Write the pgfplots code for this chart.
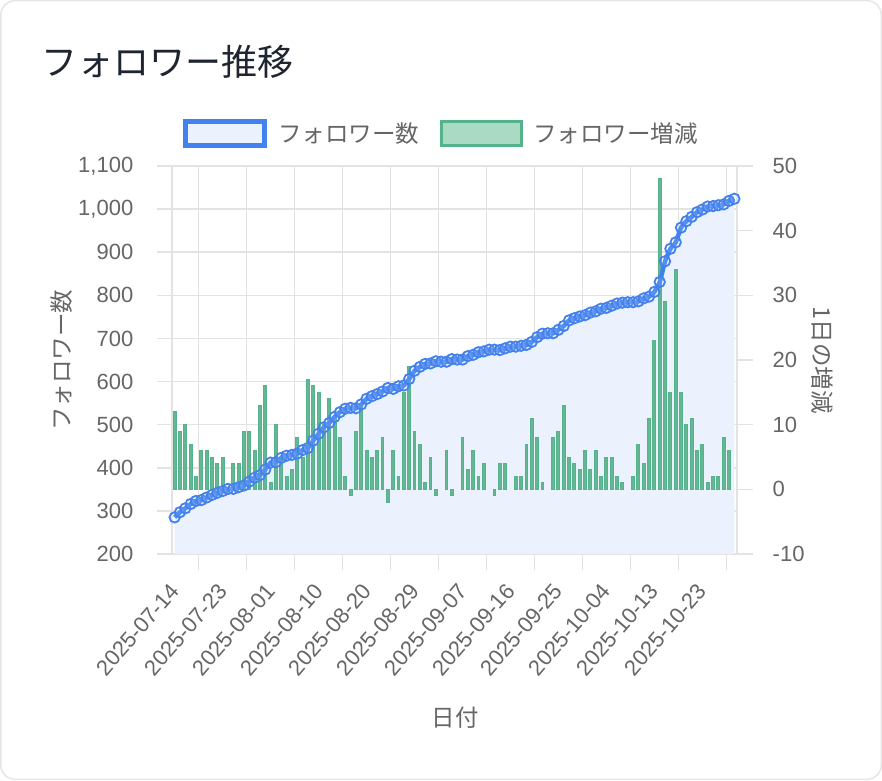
\documentclass[border=0pt]{standalone}
\usepackage{fontspec}
\setmainfont{Liberation Sans}
\newfontfamily\jp{Noto Sans CJK JP}
\usepackage{pgfplots}
\usepackage{pgfplotstable}
\pgfplotsset{compat=1.18}
\definecolor{gridc}{HTML}{E3E3E3}
\definecolor{tickc}{HTML}{666666}
\definecolor{lineblue}{HTML}{4281EE}
\definecolor{fillblue}{HTML}{EBF2FE}
\definecolor{bargreen}{HTML}{54B38A}
\definecolor{barfill}{HTML}{AAD9C4}
\definecolor{barinner}{HTML}{63B893}
\definecolor{titlec}{HTML}{1E2430}
\definecolor{cardborder}{HTML}{E6E6E6}

\pgfplotstableread{
i f b
0 285 12
1 297 9
2 306 10
3 316 7
4 323 2
5 325 6
6 331 6
7 337 5
8 342 4
9 346 5
10 351 nan
11 351 4
12 355 4
13 359 9
14 368 9
15 377 6
16 383 13
17 396 16
18 412 1
19 413 10
20 423 5
21 428 2
22 430 3
23 433 8
24 441 5
25 446 17
26 463 16
27 479 15
28 494 10
29 504 14
30 518 11
31 529 8
32 537 2
33 539 -1
34 538 9
35 547 13
36 560 6
37 566 5
38 571 6
39 577 8
40 585 -2
41 583 6
42 589 2
43 591 15
44 606 19
45 625 9
46 634 7
47 641 1
48 642 5
49 647 -1
50 646 nan
51 646 6
52 652 -1
53 651 nan
54 651 8
55 659 3
56 662 6
57 668 2
58 670 4
59 674 nan
60 674 -1
61 673 4
62 677 4
63 681 nan
64 681 2
65 683 2
66 685 7
67 692 11
68 703 8
69 711 1
70 712 nan
71 712 8
72 720 9
73 729 13
74 742 5
75 747 4
76 751 3
77 754 6
78 760 3
79 763 6
80 769 2
81 771 5
82 776 5
83 781 2
84 783 1
85 784 nan
86 784 2
87 786 7
88 793 4
89 797 11
90 808 23
91 831 48
92 879 29
93 908 15
94 923 34
95 957 15
96 972 10
97 982 11
98 993 6
99 999 7
100 1006 1
101 1007 2
102 1009 2
103 1011 8
104 1019 6
105 1024 nan
}\datatable

\pgfplotsset{
  base/.style={
    scale only axis, width=565pt, height=388pt,
    at={(172pt,226pt)}, anchor=south west,
    xmin=-0.5, xmax=105.5,
  }
}

\begin{document}
\begin{tikzpicture}[x=1pt,y=1pt]
\useasboundingbox (0,0) rectangle (882,780);
\draw[cardborder, line width=1.5pt, fill=white, rounded corners=14pt] (0.75,0.75) rectangle (881.25,779.25);

% title
\node[anchor=west, inner sep=0pt, text=titlec, font=\jp\fontsize{36}{40}\selectfont] at (41,718) {フォロワー推移};

% legend
\draw[lineblue, line width=5.5pt, fill=fillblue] (185.5,634.5) rectangle (264.5,658.5);
\node[anchor=west, inner sep=0pt, text=tickc, font=\jp\fontsize{23.5}{26}\selectfont] at (278,646.5) {フォロワー数};
\draw[bargreen, line width=3pt, fill=barfill] (441,634.5) rectangle (521,658.5);
\node[anchor=west, inner sep=0pt, text=tickc, font=\jp\fontsize{23.5}{26}\selectfont] at (533,646.5) {フォロワー増減};

% axis titles
\node[rotate=90, inner sep=0pt, text=tickc, font=\jp\fontsize{23.5}{26}\selectfont] at (62,420) {フォロワー数};
\node[rotate=-90, inner sep=0pt, text=tickc, font=\jp\fontsize{23.5}{26}\selectfont] at (822,420) {1日の増減};
\node[inner sep=0pt, text=tickc, font=\jp\fontsize{23.5}{26}\selectfont] at (455,62) {日付};

% axis 1: grid, left scale, x labels, area fill
\begin{axis}[base,
  ymin=200, ymax=1100,
  ytick={200,300,400,500,600,700,800,900,1000,1100},
  yticklabels={200,300,400,500,600,700,800,900,{1,000},{1,100}},
  xtick={4.5,13.5,22.5,31.5,40.5,49.5,58.5,67.5,76.5,85.5,94.5,103.5},
  xticklabels={},
  extra x ticks={0,9,18,27,36,45,54,63,72,81,90,99},
  extra x tick labels={2025-07-14,2025-07-23,2025-08-01,2025-08-10,2025-08-20,2025-08-29,2025-09-07,2025-09-16,2025-09-25,2025-10-04,2025-10-13,2025-10-23},
  extra x tick style={grid=none, major tick length=0pt,
    xticklabel style={yshift=-33pt, rotate=49, anchor=east, inner sep=0pt}},
  xmajorgrids, ymajorgrids,
  grid style={gridc, line width=1.5pt},
  tick align=outside, major tick length=15.5pt, tick pos=left,
  tick style={gridc, line width=1.5pt},
  axis line style={gridc, line width=1.5pt},
  tick label style={text=tickc, font=\fontsize{22}{26}\selectfont},
  yticklabel style={anchor=east, inner sep=0pt, xshift=-23pt},
]
\addplot[draw=none, fill=fillblue, smooth, tension=0.3] table[x=i, y=f] {\datatable} \closedcycle;
\end{axis}

% axis 2: bars, right scale
\begin{axis}[base,
  ymin=-10, ymax=50,
  axis x line=none, axis y line*=right,
  ytick={-10,0,10,20,30,40,50},
  yticklabels={-10,0,10,20,30,40,50},
  tick align=outside, major tick length=15.5pt,
  tick style={gridc, line width=1.5pt},
  axis line style={gridc, line width=1.5pt},
  tick label style={text=tickc, font=\fontsize{22}{26}\selectfont},
  yticklabel style={anchor=west, inner sep=0pt, xshift=20pt},
  unbounded coords=discard,
]
\addplot[ybar, bar width=2.9pt, bar shift=0pt, draw=bargreen, line width=1pt, fill=barinner]
  table[x=i, y=b] {\datatable};
\end{axis}

% axis 3: follower line on top
\begin{axis}[base, hide axis, clip=false,
  ymin=200, ymax=1100]
\addplot[lineblue, line width=4.5pt, smooth, tension=0.3,
  mark=*, mark size=5.2pt,
  mark options={draw=lineblue, line width=1.8pt, fill=fillblue, fill opacity=0.12}]
  table[x=i, y=f] {\datatable};
\end{axis}
\end{tikzpicture}
\end{document}
